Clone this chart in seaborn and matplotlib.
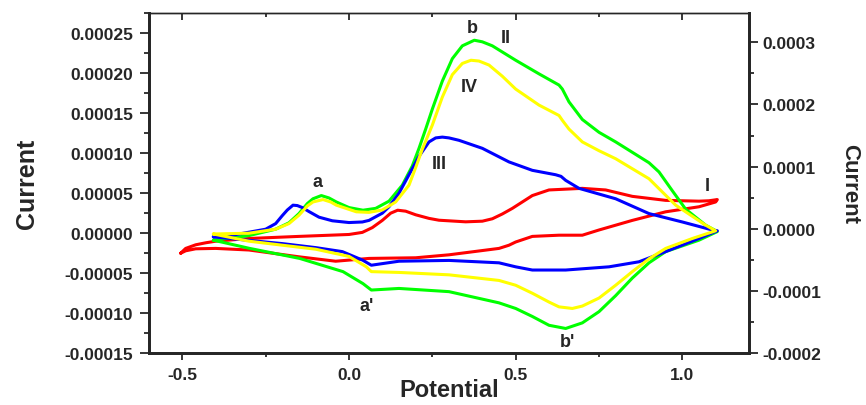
import numpy as np
import pandas as pd
import matplotlib
matplotlib.use("Agg")
import matplotlib.pyplot as plt
from matplotlib.ticker import MultipleLocator, FormatStrFormatter
import seaborn as sns

# ---------------- data (potential in V, current in A) ----------------
red_x = [-0.505, -0.49, -0.46, -0.43, -0.40, -0.30, -0.15, 0.0, 0.04, 0.07, 0.10, 0.125, 0.146, 0.17, 0.20,
         0.24, 0.27, 0.35, 0.40, 0.43, 0.46, 0.49, 0.52, 0.55, 0.60, 0.70, 0.77, 0.85, 0.95, 1.05, 1.08, 1.105,
         1.10, 1.05, 0.95, 0.85, 0.75, 0.70, 0.63, 0.55, 0.50, 0.48, 0.45, 0.30, 0.20, 0.06, -0.04, -0.15,
         -0.30, -0.40, -0.46, -0.49, -0.505]
red_y = [-2.5e-5, -1.9e-5, -1.45e-5, -1.2e-5, -1.0e-5, -0.66e-5, -0.4e-5, -0.16e-5, 0.1e-5, 0.7e-5, 1.6e-5,
         2.5e-5, 2.87e-5, 2.75e-5, 2.3e-5, 1.85e-5, 1.62e-5, 1.42e-5, 1.5e-5, 1.8e-5, 2.4e-5, 3.1e-5, 3.9e-5,
         4.7e-5, 5.4e-5, 5.6e-5, 5.4e-5, 4.6e-5, 4.1e-5, 4.0e-5, 4.05e-5, 4.2e-5,
         3.9e-5, 3.3e-5, 2.67e-5, 1.6e-5, 0.4e-5, -0.25e-5, -0.25e-5, -0.4e-5, -1.1e-5, -1.5e-5, -1.9e-5,
         -2.7e-5, -3.07e-5, -3.15e-5, -3.5e-5, -2.95e-5, -2.1e-5, -1.9e-5, -1.95e-5, -2.2e-5, -2.5e-5]

green_x = [-0.407, -0.30, -0.22, -0.18, -0.15, -0.125, -0.108, -0.083, -0.06, -0.038, 0.0, 0.042, 0.08, 0.12,
           0.16, 0.19, 0.21, 0.23, 0.25, 0.28, 0.31, 0.34, 0.376, 0.40, 0.43, 0.50, 0.57, 0.63, 0.64, 0.66,
           0.70, 0.75, 0.80, 0.85, 0.90, 0.93, 0.97, 1.01, 1.07, 1.105,
           1.05, 0.95, 0.90, 0.85, 0.80, 0.75, 0.70, 0.65, 0.60, 0.55, 0.50, 0.45, 0.30, 0.15, 0.067, 0.042,
           -0.018, -0.148, -0.298, -0.407]
green_y = [-0.87e-5, -0.3e-5, 0.5e-5, 1.3e-5, 2.45e-5, 3.7e-5, 4.3e-5, 4.7e-5, 4.4e-5, 3.9e-5, 3.2e-5, 2.87e-5,
           3.1e-5, 4.0e-5, 6.0e-5, 8.4e-5, 10.6e-5, 13.0e-5, 15.5e-5, 19.0e-5, 21.8e-5, 23.4e-5, 24.1e-5,
           23.9e-5, 23.4e-5, 21.6e-5, 19.9e-5, 18.5e-5, 18.0e-5, 16.4e-5, 14.2e-5, 12.6e-5, 11.4e-5, 10.1e-5,
           8.8e-5, 7.65e-5, 5.3e-5, 3.0e-5, 1.0e-5, 0.2e-5,
           -0.87e-5, -2.3e-5, -3.7e-5, -5.6e-5, -7.8e-5, -9.8e-5, -11.2e-5, -11.9e-5, -11.5e-5, -10.4e-5,
           -9.4e-5, -8.7e-5, -7.3e-5, -6.9e-5, -7.1e-5, -6.3e-5, -4.8e-5, -3.15e-5, -1.9e-5, -0.87e-5]

blue_x = [-0.407, -0.35, -0.25, -0.22, -0.20, -0.185, -0.168, -0.155, -0.14, -0.12, -0.09, -0.05, 0.0, 0.04,
          0.06, 0.10, 0.12, 0.15, 0.18, 0.21, 0.24, 0.26, 0.28, 0.30, 0.33, 0.40, 0.48, 0.55, 0.62, 0.636,
          0.65, 0.69, 0.80, 0.90, 1.0, 1.09, 1.105,
          1.05, 0.95, 0.87, 0.78, 0.65, 0.55, 0.50, 0.45, 0.30, 0.15, 0.10, 0.067, 0.041, -0.02, -0.10, -0.20,
          -0.30, -0.407]
blue_y = [-0.45e-5, -0.25e-5, 0.5e-5, 1.2e-5, 2.2e-5, 2.9e-5, 3.5e-5, 3.45e-5, 3.2e-5, 2.7e-5, 2.0e-5,
          1.55e-5, 1.33e-5, 1.4e-5, 1.6e-5, 2.5e-5, 3.3e-5, 5.0e-5, 7.3e-5, 9.6e-5, 11.4e-5, 11.9e-5, 12.0e-5,
          11.9e-5, 11.6e-5, 10.6e-5, 8.9e-5, 7.85e-5, 7.3e-5, 7.1e-5, 6.6e-5, 5.6e-5, 4.3e-5, 2.45e-5,
          1.4e-5, 0.4e-5, 0.3e-5,
          -0.66e-5, -2.3e-5, -3.57e-5, -4.2e-5, -4.6e-5, -4.6e-5, -4.2e-5, -3.7e-5, -3.4e-5, -3.5e-5,
          -3.8e-5, -4.0e-5, -3.37e-5, -2.3e-5, -1.8e-5, -1.3e-5, -0.9e-5, -0.45e-5]

yellow_x = [-0.407, -0.30, -0.22, -0.18, -0.15, -0.125, -0.108, -0.078, -0.055, -0.038, 0.022, 0.06, 0.10,
            0.14, 0.18, 0.20, 0.22, 0.25, 0.28, 0.31, 0.34, 0.366, 0.39, 0.42, 0.46, 0.50, 0.57, 0.63, 0.64,
            0.66, 0.70, 0.75, 0.80, 0.90, 0.98, 1.07, 1.10,
            1.03, 0.95, 0.90, 0.85, 0.80, 0.75, 0.70, 0.67, 0.63, 0.60, 0.55, 0.50, 0.45, 0.30, 0.15, 0.067,
            0.052, 0.0, -0.10, -0.20, -0.30, -0.407]
yellow_y = [-0.1e-5, 0.0, 0.5e-5, 1.2e-5, 2.25e-5, 3.4e-5, 3.9e-5, 4.2e-5, 3.9e-5, 3.5e-5, 2.67e-5, 2.6e-5,
            2.9e-5, 3.9e-5, 6.0e-5, 8.2e-5, 10.5e-5, 13.5e-5, 17.0e-5, 19.8e-5, 21.2e-5, 21.6e-5, 21.5e-5,
            21.0e-5, 19.6e-5, 18.0e-5, 16.0e-5, 14.7e-5, 14.1e-5, 13.0e-5, 11.4e-5, 10.3e-5, 9.3e-5, 6.8e-5,
            3.5e-5, 1.0e-5, 0.3e-5,
            -0.66e-5, -1.9e-5, -3.2e-5, -4.8e-5, -6.5e-5, -8.1e-5, -9.1e-5, -9.4e-5, -9.2e-5, -8.6e-5,
            -7.5e-5, -6.5e-5, -5.9e-5, -5.2e-5, -4.9e-5, -4.8e-5, -4.2e-5, -2.9e-5, -2.0e-5, -1.5e-5,
            -1.0e-5, -0.1e-5]

curve_names = ["I", "II", "III", "IV"]
curve_colors = ["#ff0000", "#00ff00", "#0000ff", "#ffff00"]

label_texts = ["a", "b", "II", "IV", "III", "I", "a'", "b'"]
label_x = [-0.094, 0.37, 0.471, 0.361, 0.271, 1.075, 0.052, 0.656]
label_y = [6.4e-5, 2.57e-4, 2.45e-4, 1.826e-4, 8.7e-5, 6.0e-5, -8.98e-5, -1.354e-4]

# ---------------- build table ----------------
frames = []
for name, xs, ys in zip(curve_names, [red_x, green_x, blue_x, yellow_x], [red_y, green_y, blue_y, yellow_y]):
    frames.append(pd.DataFrame({"Potential": xs, "Current": ys, "curve": name}))
df = pd.concat(frames, ignore_index=True)

# ---------------- style ----------------
sns.set_style("ticks")
plt.rcParams["font.family"] = ["Liberation Sans", "DejaVu Sans"]
plt.rcParams["font.weight"] = "bold"

fig = plt.figure(figsize=(8.66, 4.06), dpi=100)
ax = fig.add_axes([149 / 866, 1 - 354.3 / 406, 600 / 866, 340.3 / 406])

sns.lineplot(data=df, x="Potential", y="Current", hue="curve", hue_order=curve_names,
             palette=dict(zip(curve_names, curve_colors)), sort=False, estimator=None,
             linewidth=2.2, legend=False, ax=ax)

ax.set_xlim(-0.6, 1.2)
ax.set_ylim(-0.00015, 0.000275)

ax.xaxis.set_major_locator(MultipleLocator(0.5))
ax.xaxis.set_minor_locator(MultipleLocator(0.25))
ax.yaxis.set_major_locator(MultipleLocator(0.00005))
ax.yaxis.set_minor_locator(MultipleLocator(0.000025))
ax.yaxis.set_major_formatter(FormatStrFormatter("%.5f"))
ax.xaxis.set_major_formatter(FormatStrFormatter("%.1f"))

for s in ["left", "bottom", "right"]:
    ax.spines[s].set_linewidth(2.0)
ax.spines["top"].set_linewidth(1.0)

ax.tick_params(axis="y", which="major", direction="out", length=6.5, width=1.3, labelsize=12.5, pad=5)
ax.tick_params(axis="y", which="minor", direction="out", length=3.6, width=1.3)
ax.tick_params(axis="x", which="major", direction="out", length=5, width=1.3, labelsize=12.5, pad=5,
               top=True)
ax.tick_params(axis="x", which="minor", direction="out", length=3, width=1.3, top=True)
for t in ax.xaxis.get_major_ticks() + ax.xaxis.get_minor_ticks():
    t.tick2line.set_marker(matplotlib.lines.TICKDOWN)

ax.set_xlabel("Potential", fontsize=17, fontweight="bold")
ax.xaxis.set_label_coords(0.5, -0.105)
ax.xaxis.label.set_va("center")
ax.set_ylabel("Current", fontsize=18, fontweight="bold")
ax.yaxis.set_label_coords(-0.203, 0.5)
ax.yaxis.label.set_va("center")
for lab in ax.get_xticklabels() + ax.get_yticklabels():
    lab.set_fontweight("bold")

# right axis
ax2 = ax.twinx()
ax2.set_ylim(-0.0002, 0.000347)
ax2.yaxis.set_major_locator(MultipleLocator(0.0001))
ax2.yaxis.set_minor_locator(MultipleLocator(0.00005))
ax2.yaxis.set_major_formatter(FormatStrFormatter("%.4f"))
ax2.tick_params(axis="y", which="major", direction="out", length=6.5, width=1.3, labelsize=12.5, pad=3)
ax2.tick_params(axis="y", which="minor", direction="out", length=3.6, width=1.3)
for s in ["left", "bottom", "right"]:
    ax2.spines[s].set_linewidth(2.0)
ax2.spines["top"].set_linewidth(1.0)
ax2.set_ylabel("Current", fontsize=16, fontweight="bold", rotation=270)
ax2.yaxis.set_label_coords(1.168, 0.5)
ax2.yaxis.label.set_va("center")
for lab in ax2.get_yticklabels():
    lab.set_fontweight("bold")

for t, lx, ly in zip(label_texts, label_x, label_y):
    ax.text(lx, ly, t, fontsize=13, fontweight="bold", ha="center", va="center")

fig.savefig("out.png", dpi=100)
